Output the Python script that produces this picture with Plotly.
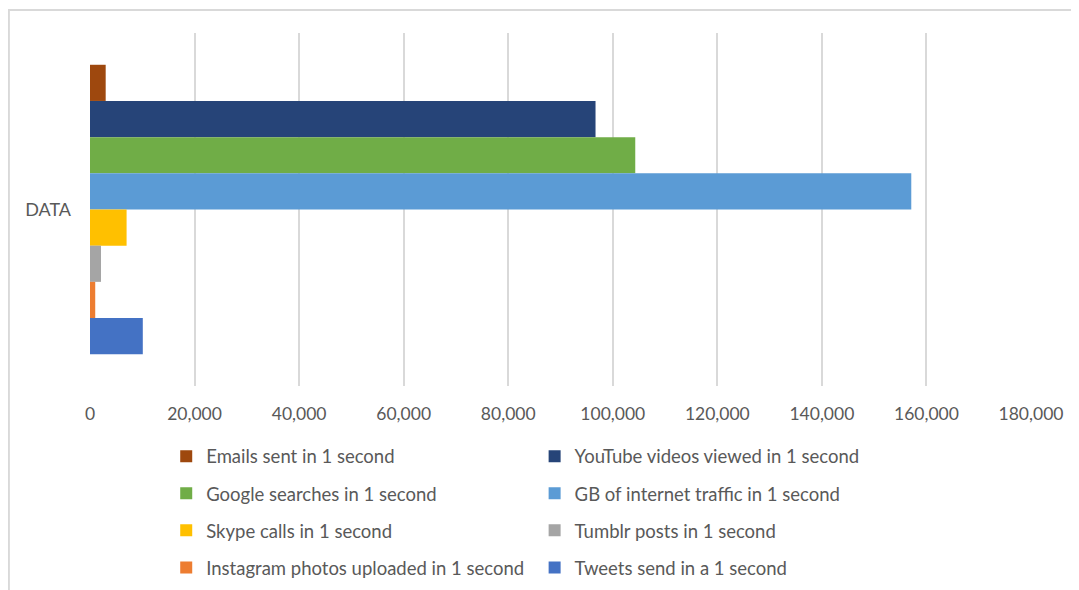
import plotly.graph_objects as go

category = ["DATA"]
series_names = [
    "Emails sent in 1 second",
    "YouTube videos viewed in 1 second",
    "Google searches in 1 second",
    "GB of internet traffic in 1 second",
    "Skype calls in 1 second",
    "Tumblr posts in 1 second",
    "Instagram photos uploaded in 1 second",
    "Tweets send in a 1 second",
]
series_values = [3000, 96700, 104300, 157100, 7000, 2100, 1000, 10100]
series_colors = ["#9E480E", "#264478", "#70AD47", "#5B9BD5",
                 "#FFC000", "#A5A5A5", "#ED7D31", "#4472C4"]
legend_columns = ["legend", "legend2", "legend", "legend2",
                  "legend", "legend2", "legend", "legend2"]
tick_values = [0, 20000, 40000, 60000, 80000, 100000, 120000, 140000, 160000, 180000]
tick_labels = ["0", "20,000", "40,000", "60,000", "80,000", "100,000",
               "120,000", "140,000", "160,000", "180,000"]

FONT = "Lato"
TXT = "#595959"

fig = go.Figure()
for name, val, col, lg in zip(series_names, series_values, series_colors, legend_columns):
    fig.add_trace(go.Bar(
        y=category, x=[val], name=name, orientation="h",
        marker=dict(color=col, line=dict(width=0)),
        legend=lg, legendgroup=name,
    ))

leg_common = dict(
    orientation="v", xanchor="left", yanchor="top",
    font=dict(family=FONT, size=18.5, color=TXT),
    tracegroupgap=10, bgcolor="rgba(0,0,0,0)",
    itemclick=False, itemdoubleclick=False,
)

fig.update_layout(
    width=1071, height=582,
    margin=dict(l=82, r=48, t=25, b=204, autoexpand=False),
    paper_bgcolor="white", plot_bgcolor="white",
    barmode="group", bargap=0.18,
    showlegend=True,
    legend=dict(x=0.081, y=-0.1465, **leg_common),
    legend2=dict(x=0.4725, y=-0.1465, **leg_common),
    xaxis=dict(
        range=[0, 180000], tickvals=tick_values, ticktext=tick_labels,
        showgrid=True, gridcolor="#D9D9D9", gridwidth=1.5,
        zeroline=False, showline=False,
        ticks="", ticklabelstandoff=15,
        tickfont=dict(family=FONT, size=17.5, color=TXT),
        fixedrange=True,
    ),
    yaxis=dict(
        autorange="reversed", showgrid=False, zeroline=False, showline=False,
        ticks="", ticklabelstandoff=18,
        tickfont=dict(family=FONT, size=18, color=TXT),
        fixedrange=True,
    ),
    shapes=[dict(
        type="rect", xref="paper", yref="paper",
        x0=-0.0862, x1=1.3, y0=-2.0, y1=1.065,
        line=dict(color="#D9D9D9", width=2), fillcolor="rgba(0,0,0,0)",
        layer="below",
    )],
)

fig.write_html("out.html")
